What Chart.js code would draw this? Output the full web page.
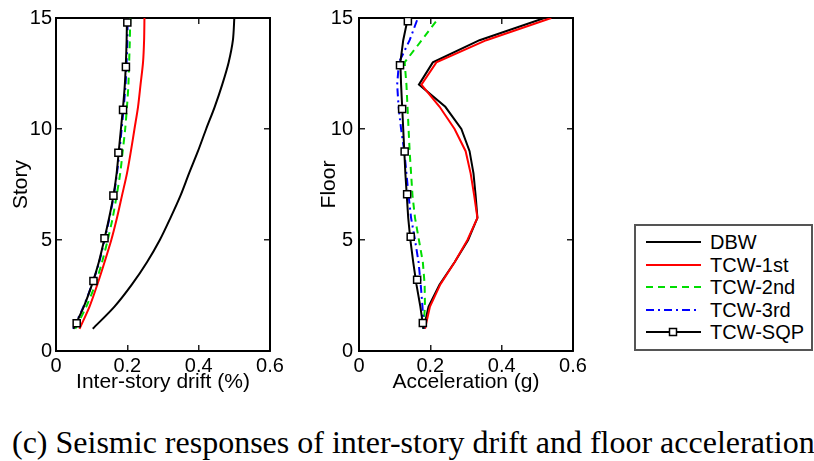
<!DOCTYPE html>
<html>
<head>
<meta charset="utf-8">
<script src="https://cdn.jsdelivr.net/npm/chart.js@4.4.0/dist/chart.umd.min.js"></script>
<style>
  body { margin:0; background:#fff; width:814px; height:461px; position:relative; overflow:hidden;
         font-family:"Liberation Sans", Arial, sans-serif; }
  .plot { position:absolute; top:0; width:300px; height:400px; }
  #legend { position:absolute; left:634px; top:224px; width:175px; height:123px; border:2px solid #555; }
  .row { position:absolute; left:10px; height:22px; line-height:22px; font-size:20px; color:#000; white-space:nowrap; }
  .row svg { position:absolute; left:0; top:5px; }
  .row span { position:absolute; left:64px; top:0; }
  #caption { position:absolute; left:12px; top:426px; font-family:"Liberation Serif", "Times New Roman", serif;
             font-size:32px; line-height:32px; color:#000; white-space:nowrap; }
</style>
</head>
<body>
<div class="plot" style="left:0"><canvas id="drift" width="300" height="400"></canvas></div>
<div class="plot" style="left:300px"><canvas id="accel" width="300" height="400"></canvas></div>

<div id="legend">
  <div class="row" style="top:5px"><svg width="56" height="12"><line x1="0" y1="6" x2="55" y2="6" stroke="#000" stroke-width="2"/></svg><span>DBW</span></div>
  <div class="row" style="top:27.5px"><svg width="56" height="12"><line x1="0" y1="6" x2="55" y2="6" stroke="#ff0000" stroke-width="2"/></svg><span>TCW-1st</span></div>
  <div class="row" style="top:50px"><svg width="56" height="12"><line x1="0" y1="6" x2="55" y2="6" stroke="#00dd00" stroke-width="2" stroke-dasharray="7,5"/></svg><span>TCW-2nd</span></div>
  <div class="row" style="top:72.5px"><svg width="56" height="12"><line x1="0" y1="6" x2="52" y2="6" stroke="#0000ff" stroke-width="2" stroke-dasharray="8,4,2,4"/></svg><span>TCW-3rd</span></div>
  <div class="row" style="top:95px"><svg width="56" height="12"><line x1="0" y1="6" x2="55" y2="6" stroke="#000" stroke-width="2"/><rect x="23.5" y="2.5" width="7" height="7" fill="#fff" stroke="#000" stroke-width="1.5"/></svg><span>TCW-SQP</span></div>
</div>

<div id="caption">(c) Seismic responses of inter-story drift and floor acceleration</div>

<script>
// ---- inter-story drift (%) vs story ----
var stories   = [1,2,3,4,5,6,7,8,9,10,11,12,13,14,15];
var driftDBW  = [0.103,0.164,0.213,0.255,0.291,0.321,0.349,0.373,0.398,0.421,0.445,0.466,0.484,0.496,0.500];
var driftTCW1 = [0.066,0.094,0.116,0.136,0.155,0.171,0.185,0.199,0.210,0.220,0.230,0.237,0.244,0.247,0.248];
var driftTCW2 = [0.054,0.085,0.110,0.129,0.145,0.159,0.170,0.180,0.187,0.194,0.199,0.203,0.205,0.207,0.208];
var driftTCW3 = [0.048,0.077,0.101,0.121,0.136,0.150,0.162,0.171,0.178,0.184,0.190,0.195,0.198,0.200,0.201];
var driftSQP  = [0.049,0.078,0.101,0.120,0.135,0.149,0.161,0.170,0.176,0.182,0.188,0.193,0.196,0.198,0.199];
var driftMarkStory = [1.25,3.15,5.08,7.0,8.93,10.86,12.8,14.8];
var driftMarkX     = [0.058,0.105,0.136,0.161,0.175,0.188,0.196,0.200];

// ---- floor acceleration (g) vs floor ----
var floors  = [1,2,3,4,5,6,7,8,9,10,11,12,13,14,15];
var accDBW  = [0.181,0.195,0.226,0.268,0.306,0.332,0.327,0.321,0.310,0.287,0.242,0.168,0.207,0.338,0.520];
var accTCW1 = [0.185,0.199,0.228,0.268,0.304,0.332,0.323,0.313,0.299,0.268,0.226,0.175,0.217,0.357,0.539];
var accTCW2 = [0.180,0.185,0.184,0.179,0.168,0.157,0.150,0.146,0.142,0.139,0.136,0.133,0.128,0.176,0.223];
var accTCW3 = [0.181,0.178,0.173,0.167,0.157,0.146,0.139,0.133,0.127,0.118,0.111,0.107,0.112,0.142,0.165];
var accSQP  = [0.181,0.172,0.161,0.152,0.144,0.138,0.134,0.130,0.127,0.124,0.121,0.118,0.116,0.124,0.137];
var accMarkFloor = [1.26,3.21,5.15,7.06,8.99,10.9,12.87,14.86];
var accMarkX     = [0.179,0.163,0.145,0.135,0.128,0.121,0.115,0.137];

Chart.defaults.font.family = '"Liberation Sans", Arial, sans-serif';
Chart.defaults.color = '#000';

function pts(xs, ys) {
  return xs.map(function(v, i) { return { x: v, y: ys[i] }; });
}

function curves(ys, dbw, t1, t2, t3, sqp, markY, markX, tension) {
  return [
    { label:'DBW', data:pts(dbw, ys), borderColor:'#000', borderWidth:2, order:5 },
    { label:'TCW-1st', data:pts(t1, ys), borderColor:'#ff0000', borderWidth:2, order:4 },
    { label:'TCW-2nd', data:pts(t2, ys), borderColor:'#00dd00', borderWidth:2, borderDash:[7,5], order:3 },
    { label:'TCW-3rd', data:pts(t3, ys), borderColor:'#0000ff', borderWidth:2, borderDash:[8,4,2,4], order:2 },
    { label:'TCW-SQP', data:pts(sqp, ys), borderColor:'#000', borderWidth:2, order:1 },
    { label:'SQP marks', data:pts(markX, markY), showLine:false, pointRadius:5, pointStyle:'rect',
      pointBackgroundColor:'#fff', pointBorderColor:'#000', pointBorderWidth:1.5, order:0 }
  ].map(function(d) {
    if (d.showLine === undefined) { d.showLine = true; d.pointRadius = 0; }
    d.tension = tension;
    d.fill = false;
    return d;
  });
}

function axis(pos, min, max, step, size, extra) {
  var a = {
    type:'linear', position:pos, min:min, max:max,
    ticks:{ stepSize:step, display:false, font:{ size:20 }, color:'#000' },
    grid:{ drawOnChartArea:false, drawTicks:true, tickLength:-6, color:'#222', lineWidth:1.5 },
    border:{ display:true, color:'#000', width:2 },
    afterFit:function(s) {
      if (pos === 'left' || pos === 'right') s.width = size; else s.height = size;
      // keep the plot box fixed; labels may hang past it
      s.paddingTop = 0; s.paddingBottom = 0; s.paddingLeft = 0; s.paddingRight = 0;
    }
  };
  if (extra) {
    a.ticks.display = true;
    a.ticks.padding = extra.pad;
    a.title = { display:true, text:extra.title, font:{ size:21 }, color:'#000', padding:extra.tpad };
  }
  return a;
}

function makeChart(id, datasets, xTitle, yTitle, leftW, rightW, yPad, yTitlePad) {
  return new Chart(document.getElementById(id), {
    type:'scatter',
    data:{ datasets:datasets },
    options:{
      responsive:false, animation:false, events:[],
      layout:{ padding:0 },
      plugins:{ legend:{ display:false }, tooltip:{ enabled:false } },
      scales:{
        x:  axis('bottom', 0, 0.6, 0.2, 49, { pad:9, title:xTitle, tpad:{ top:0, bottom:5 } }),
        x2: axis('top', 0, 0.6, 0.2, 18),
        y:  axis('left', 0, 15, 5, leftW, { pad:yPad, title:yTitle, tpad:{ top:yTitlePad, bottom:0 } }),
        y2: axis('right', 0, 15, 5, rightW)
      }
    }
  });
}

makeChart('drift',
  curves(stories, driftDBW, driftTCW1, driftTCW2, driftTCW3, driftSQP, driftMarkStory, driftMarkX, 0.3),
  'Inter-story drift (%)', 'Story', 56, 30, 10, 9);

makeChart('accel',
  curves(floors, accDBW, accTCW1, accTCW2, accTCW3, accSQP, accMarkFloor, accMarkX, 0),
  'Acceleration (g)', 'Floor', 59, 27, 12, 17);
</script>
</body>
</html>
